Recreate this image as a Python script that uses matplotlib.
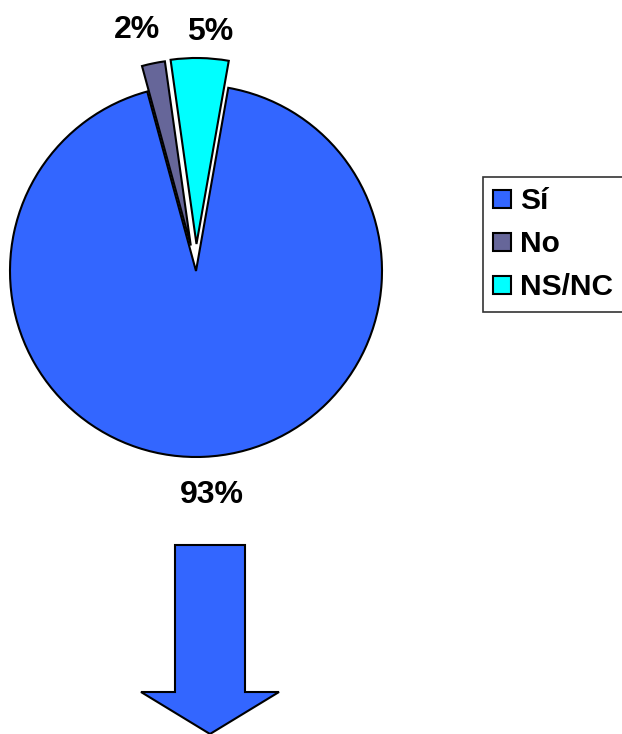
import matplotlib
matplotlib.use("Agg")
import matplotlib.pyplot as plt
import matplotlib.patches as mpatches

categories = ["Sí", "No", "NS/NC"]
values = [93, 2, 5]
labels_txt = ["93%", "2%", "5%"]
colors = ["#3366FF", "#666699", "#00FFFF"]
explode_px = [0.0, 26.0, 27.0]

W, H = 622, 734
fig = plt.figure(figsize=(W / 100, H / 100), dpi=100)
ax = fig.add_axes([0, 0, 1, 1])

cx, cy, r = 196, H - 271, 186
wedges, _ = ax.pie(values, colors=colors, explode=explode_px, startangle=80,
                   counterclock=False, center=(cx, cy), radius=r,
                   wedgeprops=dict(edgecolor="black", linewidth=1.5))
ax.set_xlim(0, W)
ax.set_ylim(0, H)
ax.set_aspect("equal")
ax.axis("off")

font = dict(family="Liberation Sans", weight="bold", fontsize=23)
label_pos = [(212, H - 495), (137, H - 30), (210, H - 32)]
for (x, y), t in zip(label_pos, labels_txt):
    ax.text(x, y, t, ha="center", va="center", **font)

# down arrow
arrow = mpatches.FancyArrow(210, H - 545, 0, -(734 - 545), width=70,
                            head_width=138, head_length=42,
                            length_includes_head=True,
                            facecolor="#3366FF", edgecolor="black", linewidth=1.5)
ax.add_patch(arrow)

leg = ax.legend(wedges, categories, loc="upper left",
                bbox_to_anchor=(483 / W, 1 - 177 / H),
                prop=dict(family="Liberation Sans", weight="bold", size=21.5),
                frameon=True, fancybox=False, edgecolor="black",
                handlelength=0.6, handleheight=0.55, handletextpad=0.3,
                labelspacing=0.5, borderpad=0.35, borderaxespad=0)
leg.get_frame().set_linewidth(1.2)

fig.savefig("out.png", dpi=100)
